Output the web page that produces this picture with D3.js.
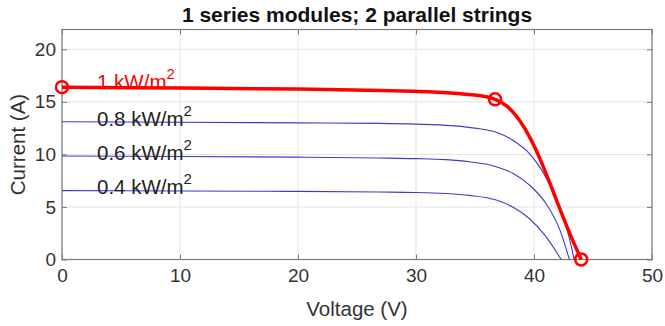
<!DOCTYPE html>
<html><head><meta charset="utf-8">
<script src="https://cdn.jsdelivr.net/npm/d3@7"></script>
<style>body{margin:0;background:#fff}svg{display:block}text{font-family:"Liberation Sans",Arial,sans-serif}</style>
</head><body><svg id="c" width="665" height="326"></svg>
<script>
const title = "1 series modules; 2 parallel strings";
const xTicks = [0,10,20,30,40,50];
const yTicks = [0,5,10,15,20];
// [voltage, current] points
const curve1 = [[0,16.4],[10,16.32],[20,16.22],[27,16.08],[31,15.95],[34,15.75],[35.9,15.5],[36.7,15.24],[37.7,14.6],[38.8,13.2],[39.7,11.5],[40.5,9.6],[41.3,7.4],[42.2,4.8],[43.1,2.3],[44.0,0]];
const curve08 = [[0,13.1],[10,13.06],[20,13.0],[26.9,12.95],[30,12.88],[33,12.74],[35,12.5],[36.8,12.1],[38.2,11.35],[39.6,10.1],[40.6,8.6],[41.6,6.5],[42.4,4.3],[43.0,2.0],[43.4,0]];
const curve06 = [[0,9.85],[10,9.8],[20,9.74],[26.9,9.66],[30,9.6],[32.5,9.5],[34.5,9.3],[36.8,8.83],[38.2,8.2],[39.6,7.1],[41.0,5.35],[42.2,2.8],[43.0,0]];
const curve04 = [[0,6.55],[10,6.52],[20,6.48],[26.9,6.42],[30,6.38],[32.5,6.28],[34.5,6.1],[36.8,5.66],[38.2,5.0],[39.6,3.9],[41.0,2.2],[42.3,0]];
const markers = [[0,16.4],[36.7,15.24],[44.0,0]];
const labels = [["1 kW/m","2","#ff0000"],["0.8 kW/m","2","#222"],["0.6 kW/m","2","#222"],["0.4 kW/m","2","#222"]];
const labelBaselines = [89,126,160,194];

const svg = d3.select("#c");
const L=62,R=652,T=29.5,B=259.5;
const x = d3.scaleLinear().domain([0,50]).range([L,R]);
const y = d3.scaleLinear().domain([0,22]).range([B,B-22*10.51]);
const ax="#7a7a7a";
// grid
svg.append("g").selectAll("line").data(xTicks).join("line")
  .attr("x1",d=>x(d)).attr("x2",d=>x(d)).attr("y1",T).attr("y2",B).attr("stroke","#e3e3e3");
svg.append("g").selectAll("line").data(yTicks).join("line")
  .attr("x1",L).attr("x2",R).attr("y1",d=>y(d)).attr("y2",d=>y(d)).attr("stroke","#e3e3e3");
// axes
const xa = svg.append("g").attr("transform",`translate(0,${B})`)
  .call(d3.axisBottom(x).tickValues(xTicks).tickSizeInner(-5).tickSizeOuter(0).tickPadding(9));
const ya = svg.append("g").attr("transform",`translate(${L},0)`)
  .call(d3.axisLeft(y).tickValues(yTicks).tickSizeInner(-5).tickSizeOuter(0).tickPadding(6));
svg.append("g").attr("transform",`translate(0,${T})`)
  .call(d3.axisTop(x).tickValues(xTicks).tickSizeInner(-5).tickSizeOuter(0).tickFormat(""));
svg.append("g").attr("transform",`translate(${R},0)`)
  .call(d3.axisRight(y).tickValues(yTicks).tickSizeInner(-5).tickSizeOuter(0).tickFormat(""));
svg.selectAll(".domain").remove();
svg.selectAll(".tick line").attr("stroke",ax);
[xa,ya].forEach(g=>g.selectAll("text").attr("font-size",19).attr("fill","#333").attr("font-family","Liberation Sans, Arial, sans-serif"));
svg.append("rect").attr("x",L).attr("y",T).attr("width",R-L).attr("height",B-T)
  .attr("fill","none").attr("stroke",ax).attr("stroke-width",1.2);

const line = d3.line().x(d=>x(d[0])).y(d=>y(d[1])).curve(d3.curveMonotoneX);
[curve04,curve06,curve08].forEach(c=>svg.append("path").attr("d",line(c)).attr("fill","none").attr("stroke","#3c3ccc").attr("stroke-width",1.1));
svg.append("path").attr("d",line(curve1)).attr("fill","none").attr("stroke","#ff0000").attr("stroke-width",3.5);
svg.append("g").selectAll("circle").data(markers).join("circle")
  .attr("cx",d=>x(d[0])).attr("cy",d=>y(d[1])).attr("r",6).attr("fill","none").attr("stroke","#ff0000").attr("stroke-width",2.5);

labels.forEach((l,i)=>{
  const t = svg.append("text").attr("x",97).attr("y",labelBaselines[i]).attr("font-size",20.5).attr("fill",l[2]);
  t.append("tspan").text(l[0]);
  t.append("tspan").attr("dy",-10).attr("font-size",15).text(l[1]);
});
svg.append("text").attr("x",357).attr("y",22).attr("text-anchor","middle").attr("font-size",21).attr("font-weight","bold").attr("fill","#111").text(title);
svg.append("text").attr("x",357).attr("y",316).attr("text-anchor","middle").attr("font-size",20.5).attr("fill","#333").text("Voltage (V)");
svg.append("text").attr("transform",`translate(25,${(T+B)/2}) rotate(-90)`).attr("text-anchor","middle").attr("font-size",20.5).attr("fill","#333").text("Current (A)");
</script></body></html>
